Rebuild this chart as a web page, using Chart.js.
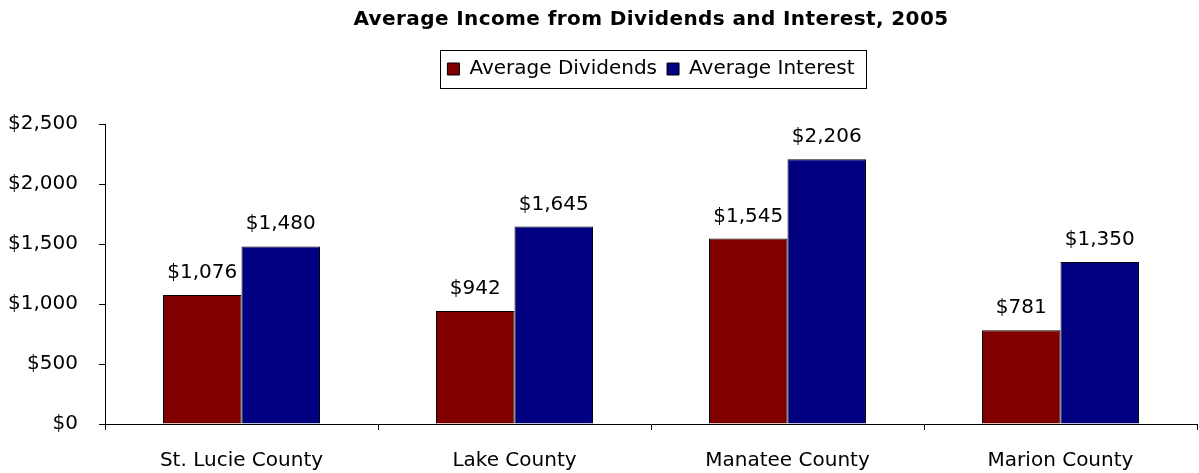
<!DOCTYPE html>
<html>
<head>
<meta charset="utf-8">
<script src="https://cdn.jsdelivr.net/npm/chart.js@4/dist/chart.umd.min.js"></script>
<style>
  html, body { margin: 0; padding: 0; background: #fff; }
  #wrap { width: 1199px; height: 473px; }
</style>
</head>
<body>
<div id="wrap"><canvas id="grafico"></canvas></div>
<script>
const condados = ["St. Lucie County", "Lake County", "Manatee County", "Marion County"];
const dividendos = [1076, 942, 1545, 781];
const juros = [1480, 1645, 2206, 1350];
const yTicks = [0, 500, 1000, 1500, 2000, 2500];

const FONTE = "'DejaVu Sans', Tahoma, sans-serif";
const dinheiro = (v) => "$" + v.toLocaleString("en-US");

// valores em cima de cada barra
const rotulosValores = {
  id: "rotulosValores",
  afterDatasetsDraw(chart) {
    const ctx = chart.ctx;
    ctx.save();
    ctx.font = "20px " + FONTE;
    ctx.fillStyle = "#000";
    ctx.textAlign = "center";
    ctx.textBaseline = "alphabetic";
    chart.data.datasets.forEach((ds, i) => {
      chart.getDatasetMeta(i).data.forEach((bar, j) => {
        ctx.fillText(dinheiro(ds.data[j]), bar.x, bar.y - 17);
      });
    });
    ctx.restore();
  },
};

// espaço extra abaixo da legenda, moldura e título um pouco espaçado
const molduraLegenda = {
  id: "molduraLegenda",
  afterInit(chart) {
    const lg = chart.legend;
    const fitOrig = lg.fit;
    lg.fit = function () {
      fitOrig.call(this);
      this.height += 35;
    };
    const tb = chart.titleBlock;
    const drawOrig = tb.draw;
    tb.draw = function () {
      const ctx = this.ctx;
      const ant = ctx.letterSpacing;
      ctx.letterSpacing = "0.4px";
      drawOrig.call(this);
      ctx.letterSpacing = ant || "0px";
    };
  },
  afterDraw(chart) {
    const lg = chart.legend;
    if (!lg || !lg.legendItems.length) return;
    const hit = lg.legendHitBoxes;
    const x0 = Math.min(...hit.map((h) => h.left)) - 7;
    const x1 = Math.max(...hit.map((h) => h.left + h.width)) + 12;
    const meio = hit[0].top + hit[0].height / 2;
    const ctx = chart.ctx;
    ctx.save();
    ctx.strokeStyle = "#000";
    ctx.lineWidth = 1;
    ctx.strokeRect(Math.round(x0) + 0.5, Math.round(meio - 19) + 0.5, Math.round(x1 - x0), 38);
    ctx.restore();
  },
};

new Chart(document.getElementById("grafico").getContext("2d"), {
  type: "bar",
  data: {
    labels: condados,
    datasets: [
      {
        label: "Average Dividends",
        data: dividendos,
        backgroundColor: "#800000",
        borderColor: "#000",
        borderWidth: 1,
      },
      {
        label: "Average Interest",
        data: juros,
        backgroundColor: "#000080",
        borderColor: "#000",
        borderWidth: 1,
      },
    ],
  },
  options: {
    responsive: true,
    maintainAspectRatio: false,
    animation: false,
    devicePixelRatio: 1,
    datasets: {
      bar: { barPercentage: 1, categoryPercentage: 0.575, inflateAmount: 0 },
    },
    layout: { padding: { left: 0, right: 2, top: 0, bottom: 2 } },
    plugins: {
      title: {
        display: true,
        fullSize: false,
        text: "Average Income from Dividends and Interest, 2005",
        color: "#000",
        font: { family: FONTE, size: 20, weight: "bold" },
        padding: { top: 8, bottom: 17 },
      },
      legend: {
        display: true,
        fullSize: false,
        labels: {
          color: "#000",
          font: { family: FONTE, size: 20 },
          boxWidth: 12,
          boxHeight: 12,
          padding: 10,
          useBorderRadius: false,
        },
      },
      tooltip: { enabled: false },
    },
    scales: {
      x: {
        afterFit(axis) {
          axis.height = 47;
        },
        grid: {
          display: true,
          drawOnChartArea: false,
          drawTicks: true,
          tickLength: 6,
          color: "#000",
          offset: true,
        },
        border: { display: true, color: "#000", width: 1 },
        ticks: { color: "#000", font: { family: FONTE, size: 20 }, padding: 19 },
      },
      y: {
        min: 0,
        max: 2500,
        afterBuildTicks(axis) {
          axis.ticks = yTicks.map((v) => ({ value: v }));
        },
        afterFit(axis) {
          axis.width = 105;
        },
        grid: {
          display: true,
          drawOnChartArea: false,
          drawTicks: true,
          tickLength: 6,
          color: "#000",
        },
        border: { display: true, color: "#000", width: 1 },
        ticks: {
          color: "#000",
          font: { family: FONTE, size: 20 },
          padding: 21,
          callback: (v) => dinheiro(v),
        },
      },
    },
  },
  plugins: [rotulosValores, molduraLegenda],
});
</script>
</body>
</html>
